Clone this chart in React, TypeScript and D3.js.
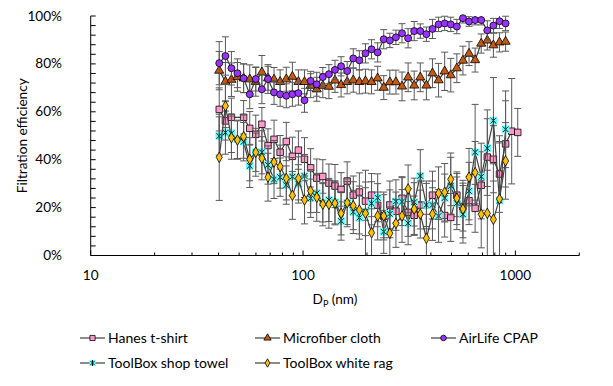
import * as d3 from "d3";

// particle diameter bins (nm)
const diameters = [
  40.3, 43.1, 46.0, 49.1, 52.5, 56.1, 59.9, 64.0, 68.4, 73.0, 78.0, 83.4, 89.1,
  95.1, 101.6, 108.6, 116.0, 123.9, 132.4, 141.4, 151.1, 161.4, 172.4, 184.2,
  196.8, 210.2, 224.6, 239.9, 256.3, 273.8, 292.5, 312.5, 333.8, 356.6, 381.0,
  407.0, 434.8, 464.5, 496.2, 530.1, 566.3, 605.0, 646.3, 690.5, 737.6, 788.0,
  841.8, 899.3, 960.8, 1026,
];

// filtration efficiency (%), null = no point
const hanes = [
  61.0, 56.2, 57.7, null, 57.7, 53.1, 50.6, 54.8, 45.9, 48.5, 43.1, 47.6, 41.4,
  44.0, 40.2, 36.6, 32.3, 33.0, 30.2, 29.0, 27.6, 31.1, 25.2, 26.5, 22.7, 25.2,
  21.0, 16.4, 21.1, 18.5, 23.9, 18.0, 16.8, 21.1, 21.1, 25.2, null, 16.7, 15.9,
  25.2, 20.2, 22.9, 19.7, 29.3, 41.1, 40.2, 34.0, 46.6, 51.9, 51.4,
];
const hanesErr = [
  9, 8, 8, null, 7, 7, 8, 7, 7, 8, 7, 8, 8, 8, 9, 8, 8, 7, 8, 9, 7, 8, 8, 8, 8,
  9, 9, 9, 10, 8, 9, 10, 8, 10, 9, 10, null, 9, 10, 9, 10, 10, 10, 14, 16, 14,
  16, 18, 22, 10,
];

const microfiber = [
  77.2, 72.6, 73.4, 74.6, 74.0, 73.6, 72.5, 76.5, 74.0, 73.5, 72.5, 73.6, 74.7,
  72.5, 72.5, 70.9, 69.4, 70.9, 70.5, 73.1, 71.2, 72.5, 73.2, 72.5, 72.8, 72.5,
  74.0, 70.1, 72.4, 72.4, 70.6, 74.4, 71.0, 74.4, 71.0, 76.1, 73.2, 76.9, 75.3,
  78.2, 81.4, 84.3, 81.6, 88.5, 89.8, 87.8, 89.0, 89.3,
];
const microfiberErr = [
  8, 8, 7, 6, 6, 6, 6, 7, 5, 5, 5, 5, 6, 5, 5, 5, 5, 5, 5, 5, 5, 5, 5, 5, 5, 5,
  5, 5, 5, 5, 6, 6, 6, 6, 6, 6, 7, 8, 7, 6, 6, 5, 5, 4, 4, 5, 4, 4,
];

const airlife = [
  80.3, 83.3, 78.2, 76.1, 74.0, 67.3, 73.7, 69.4, 73.7, 68.1, 67.3, 66.7, 67.3,
  67.8, 64.8, 72.9, 71.5, 74.5, 75.7, 77.5, 79.0, 77.0, 82.3, 81.5, 84.4, 86.1,
  84.8, 90.3, 89.8, 91.1, 92.8, 90.7, 93.7, 93.7, 92.4, 94.6, 96.5, 96.9, 96.5,
  95.6, 99.1, 97.7, 98.3, 98.3, 94.0, 96.0, 97.8, 96.9,
];
const airlifeErr = [
  9, 8, 7, 6, 6, 6, 5, 6, 6, 5, 5, 5, 5, 5, 5, 4, 5, 4, 4, 4, 4, 4, 4, 4, 4, 4,
  4, 4, 3, 3, 4, 4, 4, 3, 3, 4, 3, 3, 3, 3, 2, 2, 2, 2, 4, 3, 3, 3,
];

const shopTowel = [
  49.9, 51.3, 51.0, 48.5, 47.5, 37.4, 43.1, 43.1, 37.8, 31.8, 32.7, 29.4, 32.9,
  29.9, 33.2, 23.9, 26.0, 22.0, 23.2, 22.2, 14.4, 21.9, 18.2, 15.8, 18.3, 21.8,
  24.1, 9.9, 17.4, 22.6, 22.5, 13.5, 22.3, 33.2, 21.1, 21.1, 16.5, 24.0, 29.0,
  21.8, 17.2, 26.9, 43.1, 32.9, 44.8, 56.3, 23.0, 52.7,
];
const shopTowelErr = [
  8, 9, 8, 8, 8, 9, 8, 9, 8, 8, 8, 8, 8, 8, 9, 8, 8, 8, 9, 9, 8, 9, 9, 9, 10,
  9, 10, 9, 10, 9, 10, 9, 10, 11, 10, 10, 11, 10, 12, 11, 12, 12, 20, 14, 16,
  18, 24, 16,
];

const whiteRag = [
  41.0, 62.4, 49.2, 48.2, 49.6, 40.2, 43.1, 40.6, 32.7, 39.0, 37.1, 32.2, 25.1,
  32.2, 23.2, 26.9, 24.3, 21.4, 21.4, 21.8, 17.6, 22.0, 20.8, 19.0, 17.6, 9.5,
  16.5, 16.5, 9.3, 13.4, 16.5, 27.8, 19.4, 17.3, 7.2, 17.3, 26.0, 26.4, 31.8,
  23.9, 19.4, 32.7, 34.6, 17.2, 17.6, 15.1, 23.6, 39.5,
];
const whiteRagErr = [
  18, 9, 9, 8, 9, 9, 10, 9, 10, 9, 9, 9, 10, 9, 10, 9, 10, 9, 10, 9, 9, 10, 10,
  10, 18, 10, 10, 10, 11, 10, 11, 10, 11, 10, 10, 11, 11, 12, 11, 11, 12, 12,
  13, 14, 18, 16, 24, 16,
];

const yTickValues = [0, 20, 40, 60, 80, 100];
const xTickLabels = [10, 100, 1000];

type Shape = "square" | "triangle" | "circle" | "star" | "diamond";

const series: {
  name: string;
  values: (number | null)[];
  errors: (number | null)[];
  fill: string;
  shape: Shape;
}[] = [
  { name: "Hanes t-shirt", values: hanes, errors: hanesErr, fill: "#FF99CC", shape: "square" },
  { name: "Microfiber cloth", values: microfiber, errors: microfiberErr, fill: "#C65911", shape: "triangle" },
  { name: "AirLife CPAP", values: airlife, errors: airlifeErr, fill: "#9933FF", shape: "circle" },
  { name: "ToolBox shop towel", values: shopTowel, errors: shopTowelErr, fill: "#66FFFF", shape: "star" },
  { name: "ToolBox white rag", values: whiteRag, errors: whiteRagErr, fill: "#FFC000", shape: "diamond" },
];

const W = 613;
const H = 386;
const left = 90.7;
const right = 579.3;
const top = 16;
const bottom = 255.5;

const x = d3.scaleLog().domain([10, 2000]).range([left, right]);
const y = d3.scaleLinear().domain([0, 100]).range([bottom, top]);

const FONT = "Lato, 'Open Sans', sans-serif";
const GRAY = "#595959";

function Marker({ shape, fill, cx, cy, s = 1 }: { shape: Shape; fill: string; cx: number; cy: number; s?: number }) {
  const t = `translate(${cx},${cy})`;
  if (shape === "star") {
    const h = 3.8 * s;
    return (
      <g transform={t}>
        <rect x={-h} y={-h} width={2 * h} height={2 * h} fill={fill} />
        <path
          d={`M${-h + 1},${-h + 1}L${h - 1},${h - 1}M${-h + 1},${h - 1}L${h - 1},${-h + 1}M0,${-h}L0,${h}`}
          stroke="#1a1a1a"
          strokeWidth={1}
        />
      </g>
    );
  }
  const sym = {
    square: d3.symbolSquare,
    triangle: d3.symbolTriangle,
    circle: d3.symbolCircle,
    diamond: d3.symbolDiamond,
  }[shape];
  const size = { square: 42, triangle: 36, circle: 38, diamond: 32 }[shape] * s * s;
  const d = d3.symbol().type(sym).size(size)() || "";
  return <path d={d} transform={t} fill={fill} stroke="#000" strokeWidth={0.8} />;
}

export default function App() {
  const yMinor = d3.range(0, 101, 4);
  const xMinor: number[] = [];
  for (const dec of [10, 100, 1000]) {
    for (let k = 1; k <= 9; k++) {
      const v = dec * k;
      if (v <= 2000) xMinor.push(v);
    }
  }
  const line = d3
    .line<[number, number]>()
    .x((d) => x(d[0]))
    .y((d) => y(d[1]));

  const legendItems = [
    { i: 0, lx: 80, ly: 338 },
    { i: 1, lx: 255, ly: 338 },
    { i: 2, lx: 431, ly: 338 },
    { i: 3, lx: 80, ly: 363 },
    { i: 4, lx: 255, ly: 363 },
  ];

  return (
    <svg
      width={W}
      height={H}
      style={{ position: "absolute", left: 0, top: 0, background: "#fff" }}
      fontFamily={FONT}
    >
      <rect width={W} height={H} fill="#fff" />
      {series.map((s) => {
        const pts = diameters
          .map((dp, i) => [dp, s.values[i]] as [number, number | null | undefined])
          .filter((p) => p[1] != null) as [number, number][];
        return (
          <g key={s.name}>
            {diameters.map((dp, i) => {
              const v = s.values[i];
              const e = s.errors[i];
              if (v == null || e == null) return null;
              const hi = Math.min(v + e, 100);
              const lo = Math.max(v - e, 0);
              const px = x(dp);
              return (
                <g key={i} stroke={GRAY} strokeWidth={1}>
                  <line x1={px} x2={px} y1={y(hi)} y2={y(lo)} />
                  {v + e <= 100 && <line x1={px - 3.5} x2={px + 3.5} y1={y(hi)} y2={y(hi)} />}
                  {v - e >= 0 && <line x1={px - 3.5} x2={px + 3.5} y1={y(lo)} y2={y(lo)} />}
                </g>
              );
            })}
            <path d={line(pts) || ""} fill="none" stroke="#404040" strokeWidth={1.2} />
            {pts.map((p, i) => (
              <Marker key={i} shape={s.shape} fill={s.fill} cx={x(p[0])} cy={y(p[1])} />
            ))}
          </g>
        );
      })}

      {/* axes */}
      <line x1={left} x2={left} y1={top} y2={bottom} stroke="#000" strokeWidth={1} />
      <line x1={left} x2={right} y1={bottom} y2={bottom} stroke="#000" strokeWidth={1} />
      {yMinor.map((v) => (
        <line key={v} x1={left} x2={left + 5} y1={y(v)} y2={y(v)} stroke="#000" strokeWidth={1} />
      ))}
      {xMinor.map((v) => {
        const major = xTickLabels.includes(v);
        return (
          <line
            key={v}
            x1={x(v)}
            x2={x(v)}
            y1={bottom}
            y2={bottom - (major ? 5 : 3)}
            stroke="#000"
            strokeWidth={1}
          />
        );
      })}
      {yTickValues.map((v) => (
        <text key={v} x={62} y={y(v) + 4.5} textAnchor="end" fontSize={13.6} fill="#000">
          {v}%
        </text>
      ))}
      {xTickLabels.map((v) => (
        <text key={v} x={x(v)} y={280} textAnchor="middle" fontSize={13.6} fill="#000">
          {v}
        </text>
      ))}
      <text x={335} y={304} textAnchor="middle" fontSize={13.6} fill="#000">
        D
        <tspan fontSize={9} dy={3}>
          P
        </tspan>
        <tspan dy={-3}> (nm)</tspan>
      </text>
      <text
        transform={`translate(27,${(top + bottom) / 2}) rotate(-90)`}
        textAnchor="middle"
        fontSize={13.6}
        fill="#000"
      >
        Filtration efficiency
      </text>

      {/* legend */}
      {legendItems.map(({ i, lx, ly }) => {
        const s = series[i];
        return (
          <g key={s.name}>
            <line x1={lx} x2={lx + 25} y1={ly} y2={ly} stroke="#404040" strokeWidth={1.2} />
            <Marker shape={s.shape} fill={s.fill} cx={lx + 12.5} cy={ly} s={0.8} />
            <text x={lx + 28} y={ly + 4.5} fontSize={14} fill="#000">
              {s.name}
            </text>
          </g>
        );
      })}
    </svg>
  );
}
